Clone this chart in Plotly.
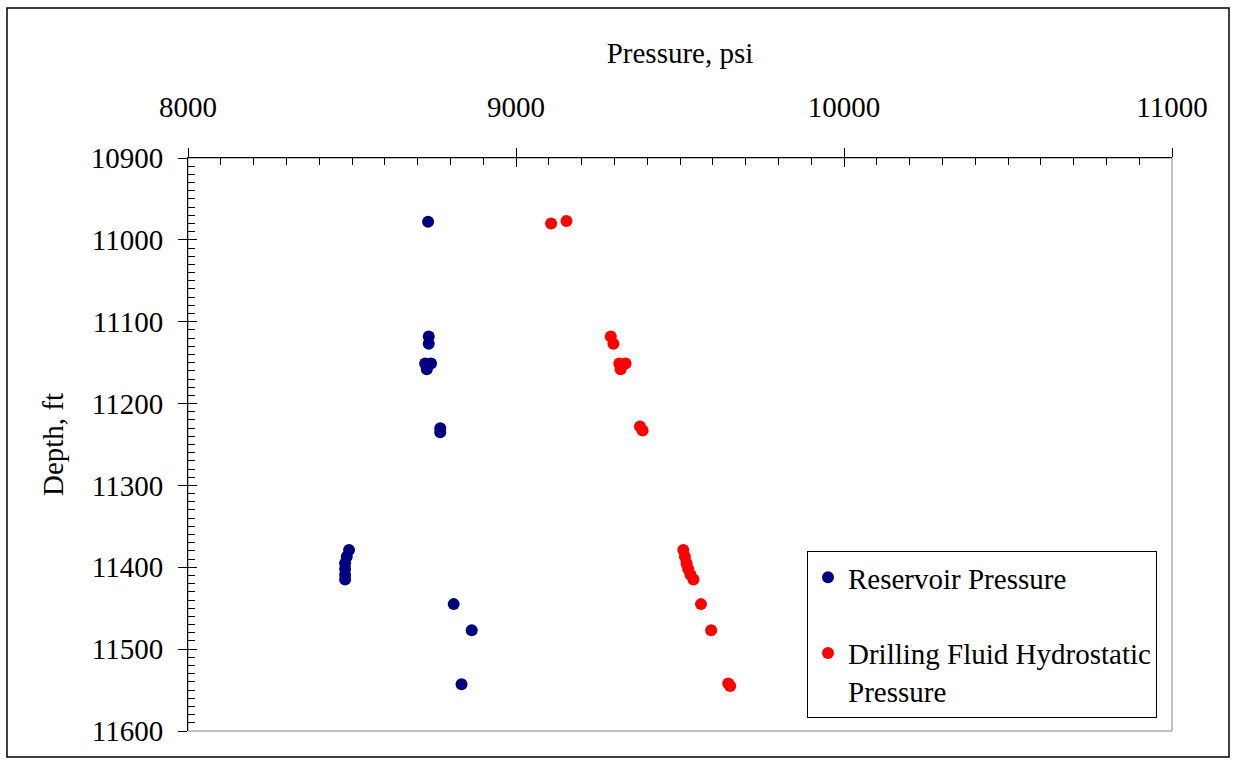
import plotly.graph_objects as go

# Reservoir pressure (psi) vs depth (ft)
res_depth = [10978, 11118, 11127, 11151, 11151, 11158, 11230, 11235,
             11379, 11387, 11395, 11402, 11409, 11415, 11445, 11477, 11543]
res_pressure = [8732, 8734, 8734, 8723, 8741, 8728, 8769, 8769,
                8491, 8484, 8479, 8479, 8479, 8479, 8810, 8865, 8834]

# Drilling fluid hydrostatic pressure (psi) vs depth (ft)
mud_depth = [10980, 10977, 11118, 11127, 11151, 11151, 11158, 11228, 11233,
             11379, 11387, 11395, 11402, 11409, 11415, 11445, 11477, 11542, 11545]
mud_pressure = [9107, 9154, 9289, 9297, 9315, 9334, 9319, 9378, 9386,
                9510, 9515, 9520, 9525, 9532, 9541, 9564, 9595, 9647, 9653]

x_range = [8000, 11000]
y_range = [11600, 10900]

FONT = "Liberation Serif, Times New Roman, serif"
FS = 29

fig = go.Figure()
fig.add_trace(go.Scatter(x=res_pressure, y=res_depth, mode="markers",
                         name="Reservoir Pressure", legendgroup="a",
                         marker=dict(color="#000080", size=12)))
fig.add_trace(go.Scatter(x=mud_pressure, y=mud_depth, mode="markers",
                         name="Drilling Fluid Hydrostatic<br>Pressure", legendgroup="b",
                         marker=dict(color="#FF0000", size=12)))
# empty traces so the overlay axes (outer half of the crossing major ticks) are drawn
fig.add_trace(go.Scatter(x=[], y=[], xaxis="x2", yaxis="y", showlegend=False, hoverinfo="skip"))
fig.add_trace(go.Scatter(x=[], y=[], xaxis="x", yaxis="y2", showlegend=False, hoverinfo="skip"))

L, R, T, B = 188, 61, 158, 29
W, H = 1233, 760
pw, ph = W - L - R, H - T - B

fig.update_layout(
    width=W, height=H,
    margin=dict(l=L, r=R, t=T, b=B),
    paper_bgcolor="white", plot_bgcolor="white",
    font=dict(family=FONT, size=FS, color="black"),
    showlegend=True,
    legend=dict(x=(807 - L) / pw, y=(H - B - 551) / ph, xanchor="left", yanchor="top",
                bordercolor="black", borderwidth=1, bgcolor="white",
                font=dict(family=FONT, size=FS), valign="top",
                tracegroupgap=35, itemsizing="constant"),
    xaxis=dict(side="top", range=x_range, dtick=1000, tick0=8000, tickformat="d",
               showgrid=False, zeroline=False, showline=True, linecolor="black", linewidth=1,
               ticks="inside", ticklen=9, tickcolor="black",
               minor=dict(dtick=100, ticks="inside", ticklen=7, tickcolor="black", showgrid=False),
               ticklabelstandoff=28,
               title=dict(text="Pressure, psi", standoff=19, font=dict(family=FONT, size=FS))),
    yaxis=dict(range=y_range, dtick=100, tick0=10900, tickformat="d",
               showgrid=False, zeroline=False, showline=True, linecolor="black", linewidth=1,
               ticks="inside", ticklen=9, tickcolor="black",
               minor=dict(dtick=10, ticks="inside", ticklen=7, tickcolor="black", showgrid=False),
               ticklabelstandoff=18,
               title=dict(text="Depth, ft", standoff=18, font=dict(family=FONT, size=FS))),
    xaxis2=dict(overlaying="x", anchor="y", side="top", range=x_range, dtick=1000, tick0=8000,
                showgrid=False, zeroline=False, showline=False, showticklabels=False,
                ticks="outside", ticklen=9, tickcolor="black"),
    yaxis2=dict(overlaying="y", anchor="x", side="left", range=y_range, dtick=100, tick0=10900,
                showgrid=False, zeroline=False, showline=False, showticklabels=False,
                ticks="outside", ticklen=9, tickcolor="black"),
)

# plot area border (gray) and outer chart frame (black)
fig.add_shape(type="rect", xref="x domain", yref="y domain", x0=0, x1=1, y0=0, y1=1,
              line=dict(color="#808080", width=1), layer="below")
fig.add_shape(type="rect", xref="paper", yref="paper",
              x0=(7 - L) / pw, x1=(1229 - L) / pw,
              y0=(H - B - 757) / ph, y1=(H - B - 8) / ph,
              line=dict(color="black", width=1.5))

fig.write_html("out.html")
